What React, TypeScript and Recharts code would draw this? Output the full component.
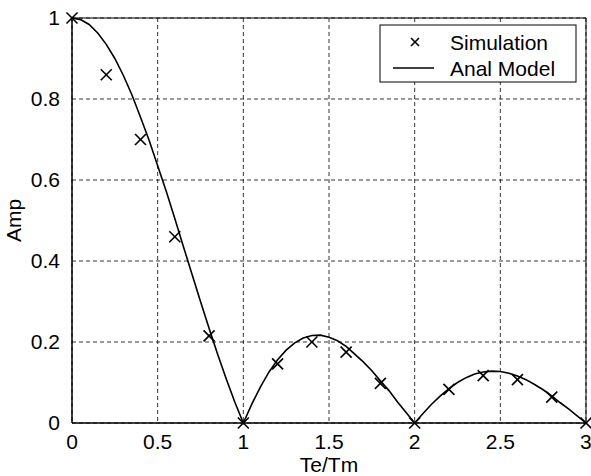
import React from 'react';
import {
  ComposedChart,
  Line,
  Scatter,
  XAxis,
  YAxis,
  CartesianGrid,
  ReferenceArea,
} from 'recharts';

// Simulation points (Te/Tm, Amp)
const simX = [0, 0.2, 0.4, 0.6, 0.8, 1.0, 1.2, 1.4, 1.6, 1.8, 2.0, 2.2, 2.4, 2.6, 2.8, 3.0];
const simY = [1, 0.86, 0.7, 0.46, 0.215, 0, 0.146, 0.2, 0.175, 0.098, 0, 0.083, 0.117, 0.107, 0.064, 0];

// Analytical model curve
const modelX = [
  0, 0.05, 0.1, 0.15, 0.2, 0.25, 0.3, 0.35, 0.4, 0.45, 0.5, 0.55, 0.6, 0.65, 0.7, 0.75, 0.8, 0.85, 0.9, 0.95,
  1.0, 1.05, 1.1, 1.15, 1.2, 1.25, 1.3, 1.35, 1.4, 1.45, 1.5, 1.55, 1.6, 1.65, 1.7, 1.75, 1.8, 1.85, 1.9, 1.95,
  2.0, 2.05, 2.1, 2.15, 2.2, 2.25, 2.3, 2.35, 2.4, 2.45, 2.5, 2.55, 2.6, 2.65, 2.7, 2.75, 2.8, 2.85, 2.9, 2.95, 3.0,
];
const modelY = [
  1, 0.996, 0.984, 0.963, 0.935, 0.9, 0.858, 0.81, 0.755, 0.698, 0.635, 0.572, 0.505, 0.436, 0.368, 0.3, 0.234, 0.17, 0.109, 0.052,
  0, 0.047, 0.089, 0.126, 0.156, 0.18, 0.198, 0.21, 0.216, 0.217, 0.212, 0.203, 0.189, 0.17, 0.151, 0.129, 0.104, 0.08, 0.052, 0.026,
  0, 0.024, 0.047, 0.067, 0.085, 0.1, 0.112, 0.121, 0.126, 0.128, 0.127, 0.123, 0.116, 0.107, 0.095, 0.082, 0.067, 0.05, 0.034, 0.017, 0,
];

const xTicks = [0, 0.5, 1, 1.5, 2, 2.5, 3];
const yTicks = [0, 0.2, 0.4, 0.6, 0.8, 1];

const simData = simX.map((x, i) => ({ x, y: simY[i] }));
const modelData = modelX.map((x, i) => ({ x, y: modelY[i] }));

const FONT = '"Liberation Sans", Arial, sans-serif';
const FS = 21;

const XMark = (props: any) => {
  const { cx, cy } = props;
  const r = 5.5;
  return (
    <g>
      <line x1={cx - r} y1={cy - r} x2={cx + r} y2={cy + r} stroke="#000" strokeWidth={1.6} />
      <line x1={cx - r} y1={cy + r} x2={cx + r} y2={cy - r} stroke="#000" strokeWidth={1.6} />
    </g>
  );
};

const LegendBox = () => (
  <svg width={198} height={59} style={{ position: 'absolute', left: 379, top: 24 }}>
    <rect x={1} y={1} width={196} height={57} fill="#fff" stroke="#000" strokeWidth={1} />
    <line x1={32} y1={14} x2={40} y2={22} stroke="#000" strokeWidth={1.6} />
    <line x1={32} y1={22} x2={40} y2={14} stroke="#000" strokeWidth={1.6} />
    <line x1={14} y1={44} x2={55} y2={44} stroke="#000" strokeWidth={1.5} />
    <text x={71} y={26} fontFamily={FONT} fontSize={FS} fill="#000">Simulation</text>
    <text x={71} y={52} fontFamily={FONT} fontSize={FS} fill="#000">Anal Model</text>
  </svg>
);

export default function App() {
  return (
    <div style={{ position: 'absolute', left: 0, top: 0, width: 591, height: 476, background: '#fff' }}>
      <ComposedChart
        width={591}
        height={476}
        margin={{ top: 18, right: 5, bottom: 0, left: 0 }}
        style={{ fontFamily: FONT }}
      >
        <CartesianGrid stroke="#000" strokeDasharray="4 3" strokeWidth={0.8} />
        <XAxis
          type="number"
          dataKey="x"
          domain={[0, 3]}
          ticks={xTicks}
          height={53}
          axisLine={{ stroke: '#000' }}
          tickLine={false}
          tickMargin={5}
          tick={{ fill: '#000', fontSize: FS, fontFamily: FONT }}
          label={{ value: 'Te/Tm', position: 'insideBottom', offset: 4, fill: '#000', fontSize: FS, fontFamily: FONT }}
        />
        <YAxis
          type="number"
          dataKey="y"
          domain={[0, 1]}
          ticks={yTicks}
          width={72}
          axisLine={{ stroke: '#000' }}
          tickLine={false}
          tickMargin={6}
          tick={{ fill: '#000', fontSize: FS, fontFamily: FONT }}
          label={{ value: 'Amp', angle: -90, position: 'insideLeft', offset: 14, fill: '#000', fontSize: FS, fontFamily: FONT, style: { textAnchor: 'middle' } }}
        />
        <ReferenceArea x1={0} x2={3} y1={0} y2={1} fill="none" stroke="#000" strokeWidth={1} />
        <Line
          data={modelData}
          dataKey="y"
          type="linear"
          stroke="#000"
          strokeWidth={1.6}
          dot={false}
          activeDot={false}
          isAnimationActive={false}
          legendType="none"
        />
        <Scatter data={simData} dataKey="y" shape={<XMark />} isAnimationActive={false} legendType="none" />
      </ComposedChart>
      <LegendBox />
    </div>
  );
}
